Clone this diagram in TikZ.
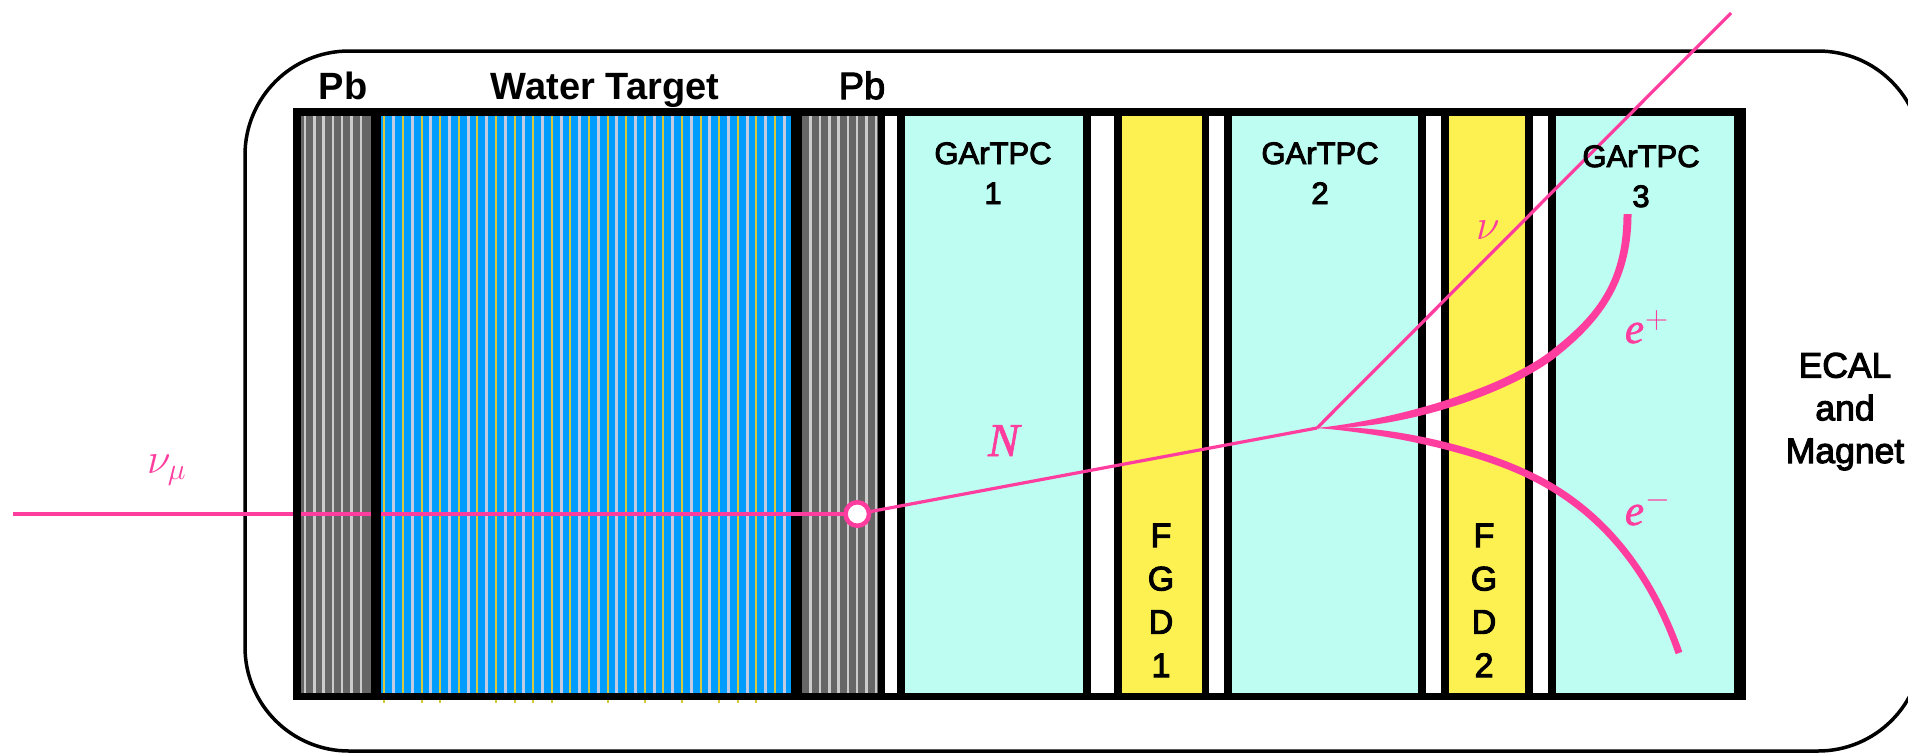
\documentclass[tikz,border=0pt]{standalone}
\usepackage{fix-cm}
\usepackage{fontspec}
\setmainfont{Liberation Sans}
\newfontfamily\markfont[FakeBold=3]{Liberation Sans}
\newfontfamily\ptclfont[FakeBold=1.5]{Liberation Serif}
\definecolor{pbgray}{HTML}{666666}
\definecolor{pbline}{HTML}{CCCCCC}
\definecolor{waterblue}{HTML}{009DFF}
\definecolor{watersilver}{HTML}{C3CBE3}
\definecolor{wateryellow}{HTML}{D8C83C}
\definecolor{tpccyan}{HTML}{BEFDF2}
\definecolor{fgdyellow}{HTML}{FCF150}
\definecolor{trackpink}{HTML}{FF3D9E}
\newcommand{\chargemark}[2]{\kern1pt\raisebox{#1}{\fontsize{32}{32}\selectfont$#2$}}
\begin{document}
\begin{tikzpicture}[
  x=1pt, y=-1pt,
  every node/.style={inner sep=0pt, outer sep=0pt},
  head/.style={anchor=base, font=\bfseries\fontsize{38}{40}\selectfont},
  tpc/.style={anchor=base, align=center, font=\markfont\fontsize{31}{40}\selectfont},
  fgd/.style={anchor=base, align=center, font=\markfont\fontsize{34}{43.3}\selectfont},
  ptcl/.style={anchor=base west, text=trackpink, font=\ptclfont\itshape\fontsize{43}{43}\selectfont},
  beam/.style={draw=trackpink, line width=3.2pt},
  vtxdot/.style={circle, draw=trackpink, fill=white, line width=4.5pt, minimum size=23.5pt}
]
  \clip (0,0) rectangle (1908,753);
  \draw[line width=3.5pt, rounded corners=104pt] (245,51) rectangle (1922,751);
  \fill[black] (293,108) rectangle (1746,700);
  \foreach \xa/\xb/\col in {301/371/pbgray, 381/791/waterblue, 802/878/pbgray, 885/897/white, 905/1083/tpccyan, 1091/1114/white, 1122/1202/fgdyellow, 1209/1224/white, 1232/1418/tpccyan, 1426/1441/white, 1449/1525/fgdyellow, 1532.5/1548/white, 1555.5/1733.5/tpccyan}
    \fill[\col] (\xa,116) rectangle (\xb,692.5);
  \foreach \x in {305,314.3,...,370} \draw[pbline, line width=2.5pt] (\x,116) -- (\x,692.5);
  \foreach \x in {810.7,820,...,877} \draw[pbline, line width=2.5pt] (\x,116) -- (\x,692.5);
  \foreach \i in {1,3,...,43} \draw[watersilver, line width=3pt] (384.3+9.302*\i,116) -- (384.3+9.302*\i,692.5);
  \foreach \i in {0,2,...,42} \draw[wateryellow, line width=2pt] (384.3+9.302*\i,116) -- (384.3+9.302*\i,692.5);
  \foreach \i in {0,4,6,12,14,16,18,24,28,32,36,38,40} \draw[wateryellow, line width=2pt] (384.3+9.302*\i,700) -- (384.3+9.302*\i,703);
  \coordinate (nuin) at (13,514);
  \coordinate (decay) at (1317,428);
  \coordinate (nuout) at (1731,13);
  \node[vtxdot] (interaction) at (857.3,514) {};
  \draw[beam] (nuin) -- (interaction);
  \fill[black] (293,505) rectangle (301,523);
  \fill[black] (371,505) rectangle (381,523);
  \draw[beam] (interaction) -- (decay);
  \draw[beam] (decay) -- (nuout);
  \fill[trackpink] (decay) .. controls (1400,419) and (1504.5,387.3) .. (1551.5,350.3) .. controls (1592.5,317.8) and (1623.5,285) .. (1623.5,214) -- (1631.5,214) .. controls (1631.5,285) and (1597.5,324.2) .. (1556.5,356.7) .. controls (1509.5,393.7) and (1400,431) .. (decay) -- cycle;
  \fill[trackpink] (decay) .. controls (1380,423) and (1472,444) .. (1528.5,470.8) .. controls (1603,505) and (1653,569) .. (1682.3,651.8) -- (1675.7,654.2) .. controls (1647,571) and (1597,511) .. (1525.5,477.2) .. controls (1468,450) and (1380,433) .. (decay) -- cycle;
  \node[head] (pbup) at (343,99) {Pb};
  \node[head] (water) at (605,99) {Water Target};
  \node[anchor=base, font=\markfont\fontsize{38}{40}\selectfont] (pbdown) at (862,99) {Pb};
  \node[tpc] (tpcone) at (993,204) {GArTPC\\1};
  \node[tpc] (tpctwo) at (1320,204) {GArTPC\\2};
  \node[tpc] (tpcthree) at (1641,207) {GArTPC\\3};
  \node[fgd] (fgdone) at (1161,677) {F\\G\\D\\1};
  \node[fgd] (fgdtwo) at (1484,677) {F\\G\\D\\2};
  \node[anchor=base, align=center, font=\markfont\fontsize{35.5}{42.7}\selectfont] (ecal) at (1845,463) {ECAL\\and\\Magnet};
  \node[ptcl] (numu) at (147,473) {$\nu_\mu$};
  \node[ptcl, font=\ptclfont\itshape\fontsize{47}{47}\selectfont] (hnl) at (988,456) {N};
  \node[ptcl] (nulight) at (1476,239) {$\nu$};
  \node[ptcl] (eplus) at (1625,343) {e\chargemark{15pt}{+}};
  \node[ptcl] (eminus) at (1625,525) {e\chargemark{17pt}{-}};
\end{tikzpicture}
\end{document}
